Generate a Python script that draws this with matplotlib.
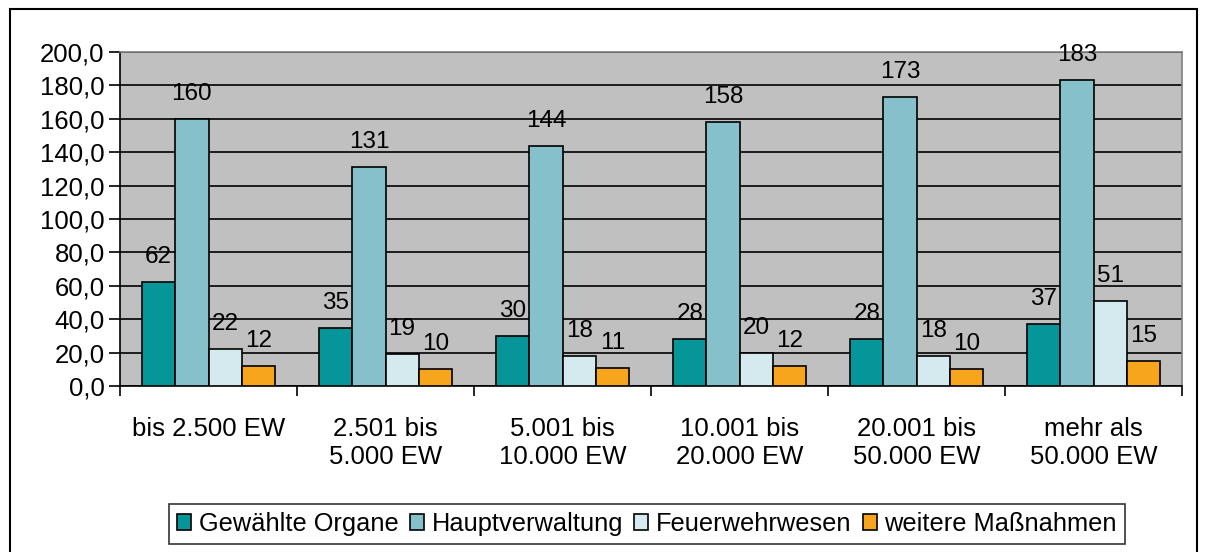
import matplotlib
matplotlib.use("Agg")
import matplotlib.pyplot as plt
import numpy as np
from matplotlib.patches import Rectangle

plt.rcParams['font.family'] = ['Liberation Sans', 'DejaVu Sans']

categories = ["bis 2.500 EW", "2.501 bis\n5.000 EW", "5.001 bis\n10.000 EW",
              "10.001 bis\n20.000 EW", "20.001 bis\n50.000 EW", "mehr als\n50.000 EW"]
series_names = ["Gewählte Organe", "Hauptverwaltung", "Feuerwehrwesen", "weitere Maßnahmen"]
gewaehlte = [62, 35, 30, 28, 28, 37]
hauptverwaltung = [160, 131, 144, 158, 173, 183]
feuerwehr = [22, 19, 18, 20, 18, 51]
weitere = [12, 10, 11, 12, 10, 15]
y_ticks = [0, 20, 40, 60, 80, 100, 120, 140, 160, 180, 200]
y_tick_labels = ["0,0", "20,0", "40,0", "60,0", "80,0", "100,0", "120,0",
                 "140,0", "160,0", "180,0", "200,0"]

colors = ["#06969A", "#86C0CA", "#D5EAEE", "#F8A51E"]
series = [gewaehlte, hauptverwaltung, feuerwehr, weitere]

W, H = 1205, 552
fig = plt.figure(figsize=(W / 100, H / 100), dpi=100)
fig.patch.set_facecolor("white")
ax = fig.add_axes([120 / W, 1 - 386 / H, (1182 - 120) / W, (386 - 52) / H])
ax.set_facecolor("#C0C0C0")

x = np.arange(len(categories))
bw = 0.1875
for i, (vals, c, name) in enumerate(zip(series, colors, series_names)):
    pos = x + (i - 1.5) * bw
    ax.bar(pos, vals, width=bw, color=c, edgecolor="black", linewidth=1.2,
           label=name, zorder=3)
    for px, v in zip(pos, vals):
        ax.annotate(str(v), (px, v), xytext=(0, 19), textcoords="offset pixels",
                    ha="center", va="baseline", fontsize=17.5, zorder=4)

ax.set_xlim(-0.5, len(categories) - 0.5)
ax.set_ylim(0, 200)
ax.set_yticks(y_ticks)
ax.set_yticklabels(y_tick_labels, fontsize=18.5)
ax.yaxis.grid(True, color="black", linewidth=1.2, zorder=1)
ax.set_axisbelow(True)

ax.set_xticks(x)
ax.set_xticklabels(categories, fontsize=18.5, linespacing=1.25)
ax.tick_params(axis="x", which="major", length=0, pad=22)
ax.set_xticks(np.arange(-0.5, len(categories)), minor=True)
ax.tick_params(axis="x", which="minor", length=7, width=1.2, direction="out")
ax.tick_params(axis="y", length=8, width=1.2, direction="out", pad=3)

for s in ["left", "bottom"]:
    ax.spines[s].set_color("black")
    ax.spines[s].set_linewidth(1.2)
for s in ["top", "right"]:
    ax.spines[s].set_color("#808080")
    ax.spines[s].set_linewidth(1.2)

leg = fig.legend(loc="center", bbox_to_anchor=(647 / W, 1 - 524 / H), ncol=4,
                 fontsize=18.3, frameon=True, fancybox=False, handlelength=0.55,
                 handleheight=0.55, handletextpad=0.3, columnspacing=0.45,
                 borderpad=0.3, borderaxespad=0)
leg.get_frame().set_edgecolor("black")
leg.get_frame().set_linewidth(1.2)

fig.patches.append(Rectangle((10 / W, -0.05), (1197 - 10) / W, 1 - 9 / H + 0.05,
                             transform=fig.transFigure, fill=False,
                             edgecolor="black", linewidth=1.5))

fig.savefig("out.png", dpi=100)
